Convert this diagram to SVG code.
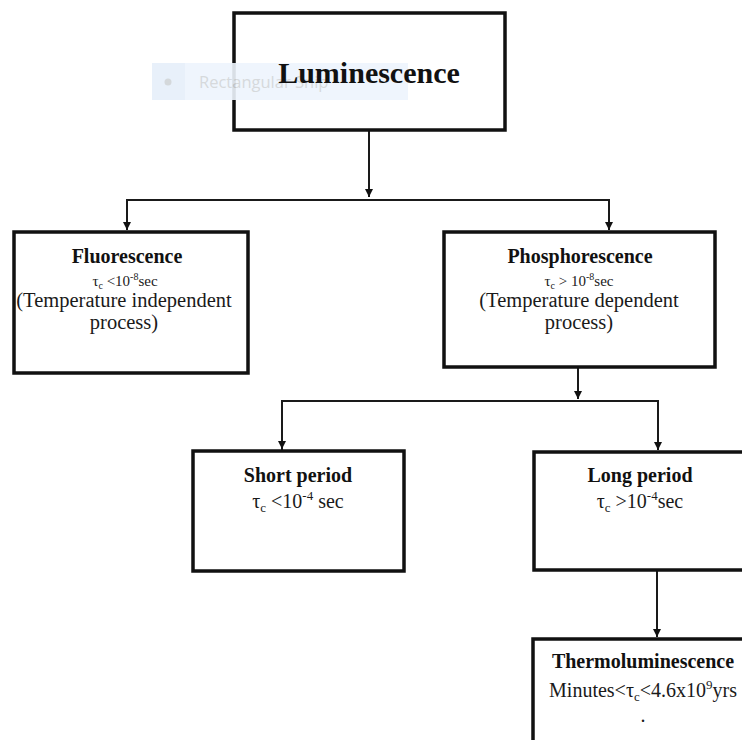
<svg xmlns="http://www.w3.org/2000/svg" width="742" height="740" viewBox="0 0 742 740">
<defs>
<marker id="arr" markerUnits="userSpaceOnUse" markerWidth="9" markerHeight="9" refX="8" refY="4" orient="auto">
<path d="M0,0 L8,4 L0,8 z" fill="#111"/>
</marker>
<style>
.box{fill:#fff;stroke:#111;stroke-width:3.5}
.con{fill:none;stroke:#1a1a1a;stroke-width:2}
.t{font-family:"Liberation Serif","Times New Roman",serif;fill:#1a1a1a;text-anchor:middle}
.b{font-weight:bold;fill:#111}
</style>
</defs>
<rect width="742" height="740" fill="#fff"/>

<g id="connectors">
<path class="con" d="M369,131 V197" marker-end="url(#arr)"/>
<path class="con" d="M127,230 V200 H609 V230" marker-end="url(#arr)"/>
<path class="con" d="M127,200 V230" marker-end="url(#arr)"/>
<path class="con" d="M578,368 V399" marker-end="url(#arr)"/>
<path class="con" d="M282,450 V401 H658 V450" marker-end="url(#arr)"/>
<path class="con" d="M282,401 V449" marker-end="url(#arr)"/>
<path class="con" d="M657,571 V637" marker-end="url(#arr)"/>
</g>

<g id="luminescence">
<rect class="box" x="234" y="13" width="271" height="117"/>
<g id="snip-overlay" opacity="0.9">
<rect x="152" y="63" width="256" height="37" fill="#eef5fd"/>
<rect x="152" y="63" width="33" height="37" fill="#e6effa"/>
<circle cx="168" cy="82" r="3.5" fill="#d0d4d8"/>
<text x="199" y="88" font-family="'Open Sans','Liberation Sans',sans-serif" font-size="16.5" fill="#d2d5d9">Rectangular Snip</text>
</g>
<text class="t b" x="369" y="83" font-size="30">Luminescence</text>
</g>

<g id="fluorescence">
<rect class="box" x="14" y="232" width="234" height="141"/>
<text class="t b" x="127" y="263" font-size="20">Fluorescence</text>
<text class="t" x="125" y="286" font-size="15">τ<tspan font-size="10" dy="3">c</tspan><tspan dy="-3"> &lt;10</tspan><tspan font-size="10" dy="-6">-8</tspan><tspan dy="6">sec</tspan></text>
<text class="t" x="124" y="307" font-size="20.5">(Temperature independent</text>
<text class="t" x="124" y="329" font-size="20.5">process)</text>
</g>

<g id="phosphorescence">
<rect class="box" x="444" y="232" width="271" height="135"/>
<text class="t b" x="580" y="263" font-size="20">Phosphorescence</text>
<text class="t" x="579" y="286" font-size="15">τ<tspan font-size="10" dy="3">c</tspan><tspan dy="-3"> &gt; 10</tspan><tspan font-size="10" dy="-6">-8</tspan><tspan dy="6">sec</tspan></text>
<text class="t" x="579" y="307" font-size="20.5">(Temperature dependent</text>
<text class="t" x="579" y="329" font-size="20.5">process)</text>
</g>

<g id="short-period">
<rect class="box" x="193" y="451" width="211" height="120"/>
<text class="t b" x="298" y="482" font-size="20">Short period</text>
<text class="t" x="298" y="508" font-size="20">τ<tspan font-size="13" dy="4">c</tspan><tspan dy="-4"> &lt;10</tspan><tspan font-size="13" dy="-8">-4</tspan><tspan dy="8"> sec</tspan></text>
</g>

<g id="long-period">
<rect class="box" x="534" y="452" width="214" height="118"/>
<text class="t b" x="640" y="482" font-size="20">Long period</text>
<text class="t" x="640" y="508" font-size="20">τ<tspan font-size="13" dy="4">c</tspan><tspan dy="-4"> &gt;10</tspan><tspan font-size="13" dy="-8">-4</tspan><tspan dy="8">sec</tspan></text>
</g>

<g id="thermoluminescence">
<rect class="box" x="533" y="639" width="220" height="120"/>
<text class="t b" x="643" y="668" font-size="20">Thermoluminescence</text>
<text class="t" x="643" y="697" font-size="20">Minutes&lt;τ<tspan font-size="13" dy="4">c</tspan><tspan dy="-4">&lt;4.6x10</tspan><tspan font-size="13" dy="-8">9</tspan><tspan dy="8">yrs</tspan></text>
<text class="t" x="643" y="722" font-size="20">.</text>
</g>
</svg>
